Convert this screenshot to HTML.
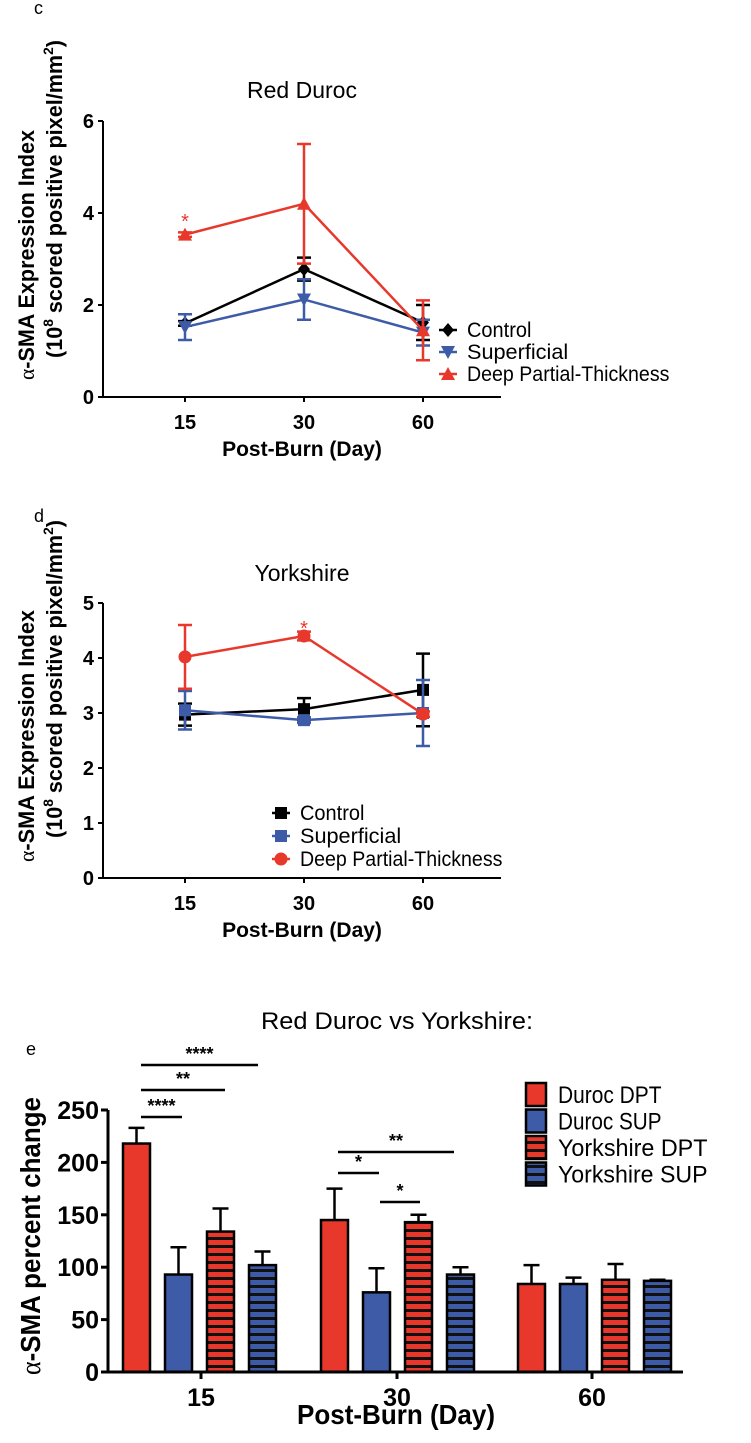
<!DOCTYPE html>
<html><head><meta charset="utf-8"><style>
html,body{margin:0;padding:0;background:#fff;}
svg{display:block;font-family:"Liberation Sans",Arial,sans-serif;}
</style></head><body>
<svg id="fig" width="751" height="1443" viewBox="0 0 751 1443" xmlns="http://www.w3.org/2000/svg">
<defs>
<pattern id="stripeR" width="8" height="8" patternUnits="userSpaceOnUse"><rect width="8" height="8" fill="#e8382b"/><rect y="5" width="8" height="3" fill="#111"/></pattern>
<pattern id="stripeB" width="8" height="8" patternUnits="userSpaceOnUse"><rect width="8" height="8" fill="#3e5ba8"/><rect y="5" width="8" height="3" fill="#111"/></pattern>
</defs>
<text x="34" y="14" font-size="18">c</text>
<text x="34" y="522" font-size="18">d</text>
<text x="26" y="1055" font-size="18">e</text>
<g id="c"></g>
<g id="d"></g>
<g id="e"></g>
</svg>
<script>
// ---- Panel c data ----
const cDays = ["15","30","60"];
const cControl = [1.6, 2.78, 1.62];
const cControlErr = [0.05, 0.25, 0.38];
const cSup = [1.52, 2.12, 1.4];
const cSupErr = [0.28, 0.44, 0.28];
const cDpt = [3.53, 4.2, 1.45];
const cDptErr = [0.05, 1.3, 0.65];
const cTicks = [0, 2, 4, 6];
// ---- Panel d data ----
const dDays = ["15","30","60"];
const dControl = [2.97, 3.07, 3.42];
const dControlErr = [0.2, 0.2, 0.66];
const dSup = [3.05, 2.87, 3.0];
const dSupErr = [0.35, 0.05, 0.6];
const dDpt = [4.02, 4.4, 2.98];
const dDptErr = [0.58, 0.08, 0.05];
const dTicks = [0, 1, 2, 3, 4, 5];
// ---- Panel e data ----
const eDays = ["15","30","60"];
const eSeries = ["Duroc DPT","Duroc SUP","Yorkshire DPT","Yorkshire SUP"];
const eDurocDpt = [218, 145, 84];
const eDurocDptErr = [15, 30, 18];
const eDurocSup = [93, 76, 84];
const eDurocSupErr = [26, 23, 6];
const eYorkDpt = [134, 143, 88];
const eYorkDptErr = [22, 7, 15];
const eYorkSup = [102, 93, 87];
const eYorkSupErr = [13, 7, 1];
const eTicks = [0, 50, 100, 150, 200, 250];
const eSigLabels = ["****","**","****","**","*","*"];

const NS = "http://www.w3.org/2000/svg";
function mk(parent, tag, attrs, txt){
  const el = document.createElementNS(NS, tag);
  for (const k in attrs) el.setAttribute(k, attrs[k]);
  if (txt !== undefined) el.textContent = txt;
  parent.appendChild(el);
  return el;
}
const RED="#e8382b", BLUE="#3e5ba8", BLK="#000";

function marker(g, type, x, y, color){
  let el;
  if (type==="diamond") el = mk(g,"polygon",{points:`${x},${y-7} ${x+6},${y} ${x},${y+7} ${x-6},${y}`,fill:color});
  else if (type==="down") el = mk(g,"polygon",{points:`${x-7},${y-6} ${x+7},${y-6} ${x},${y+7}`,fill:color});
  else if (type==="up") el = mk(g,"polygon",{points:`${x-7},${y+6} ${x+7},${y+6} ${x},${y-7}`,fill:color});
  else if (type==="square") el = mk(g,"rect",{x:x-6,y:y-6,width:12,height:12,fill:color});
  else el = mk(g,"circle",{cx:x,cy:y,r:6.5,fill:color});
  
  
}

function linePanel(g, o){
  const xs = i => o.xPos[i];
  const ys = v => o.y0 - v*o.unit;
  const ax = mk(g,"path",{d:`M${o.x0},${ys(o.ticks[o.ticks.length-1])} V${o.y0} H${o.x1}`,stroke:"#000","stroke-width":2,fill:"none"});
  
  
  o.ticks.forEach(t=>{
    mk(g,"line",{x1:o.x0-5,x2:o.x0,y1:ys(t),y2:ys(t),stroke:"#000","stroke-width":2});
    const tl = mk(g,"text",{x:o.x0-9,y:ys(t)+7,"font-size":20,"font-weight":"bold","text-anchor":"end"},String(t));
    
    
  });
  o.days.forEach((d,i)=>{
    mk(g,"line",{x1:xs(i),x2:xs(i),y1:o.y0,y2:o.y0+5,stroke:"#000","stroke-width":2});
    const tl = mk(g,"text",{x:xs(i),y:o.y0+32,"font-size":20,"font-weight":"bold","text-anchor":"middle"},d);
    
    
  });
  const tt = mk(g,"text",{x:302,y:o.titleY,"font-size":23,"text-anchor":"middle"},o.title);
  
  
  const xt = mk(g,"text",{x:302,y:o.y0+59,"font-size":21,"font-weight":"bold","text-anchor":"middle"},"Post-Burn (Day)");
  
  
  const yt = mk(g,"text",{transform:`translate(34,${o.yLabelC1}) rotate(-90)`,"font-size":22,"font-weight":"bold","text-anchor":"middle",textLength:o.yLen1,lengthAdjust:"spacingAndGlyphs"});
  
  
  mk(yt,"tspan",{"font-weight":"normal","font-family":"Liberation Serif, serif"},"α");
  mk(yt,"tspan",{},"-SMA Expression Index");
  const yt2 = mk(g,"text",{transform:`translate(62,${o.yLabelC2}) rotate(-90)`,"font-size":22,"font-weight":"bold","text-anchor":"middle",textLength:o.yLen2,lengthAdjust:"spacingAndGlyphs"});
  
  
  mk(yt2,"tspan",{},"(10");
  mk(yt2,"tspan",{"font-size":14,dy:-9},"8");
  mk(yt2,"tspan",{dy:9}," scored positive pixel/mm");
  mk(yt2,"tspan",{"font-size":14,dy:-9},"2");
  mk(yt2,"tspan",{dy:9},")");
  o.series.forEach(s=>{
    const sg = mk(g,"g",{});
    
    
    const pts = s.vals.map((v,i)=>`${xs(i)},${ys(v)}`).join(" ");
    mk(sg,"polyline",{points:pts,fill:"none",stroke:s.color,"stroke-width":2.5});
    s.vals.forEach((v,i)=>{
      const e = s.err[i];
      mk(sg,"path",{d:`M${xs(i)},${ys(v+e)} V${ys(v-e)} M${xs(i)-7},${ys(v+e)} h14 M${xs(i)-7},${ys(v-e)} h14`,stroke:s.color,"stroke-width":2.5,fill:"none"});
    });
    s.vals.forEach((v,i)=>marker(sg,s.marker,xs(i),ys(v),s.color));
  });
  const st = mk(g,"text",{x:o.star.x,y:o.star.y,"font-size":20,fill:RED,"text-anchor":"middle"},"*");
  
  
  o.series.forEach((s,i)=>{
    const ly = o.leg.y + i*o.leg.dy;
    const lg = mk(g,"g",{});
    
    
    mk(lg,"line",{x1:o.leg.x-9,x2:o.leg.x+9,y1:ly,y2:ly,stroke:s.color,"stroke-width":2.5});
    marker(lg,s.marker,o.leg.x,ly,s.color);
    mk(lg,"text",{x:o.leg.x+19,y:ly+7,"font-size":21,textLength:s.label.length*9.2,lengthAdjust:"spacingAndGlyphs"},s.label);
  });
}

const cUnit = (397-121)/6;
linePanel(document.getElementById("c"),{
  days:cDays, xPos:[185,304,423], x0:103, x1:501, y0:397, unit:cUnit, ticks:cTicks,
  title:"Red Duroc", titleY:98, yLabelC1:255, yLabelC2:199, yLen1:250, yLen2:318,
  series:[
    {name:"control",label:"Control",vals:cControl,err:cControlErr,color:BLK,marker:"diamond"},
    {name:"superficial",label:"Superficial",vals:cSup,err:cSupErr,color:BLUE,marker:"down"},
    {name:"deep-partial",label:"Deep Partial-Thickness",vals:cDpt,err:cDptErr,color:RED,marker:"up"}],
  star:{x:185,y:228},
  leg:{x:448,y:330,dy:22}
});
const dUnit = (878-603)/5;
linePanel(document.getElementById("d"),{
  days:dDays, xPos:[185,304,423], x0:103, x1:501, y0:878, unit:dUnit, ticks:dTicks,
  title:"Yorkshire", titleY:581, yLabelC1:736, yLabelC2:679, yLen1:252, yLen2:318,
  series:[
    {name:"control",label:"Control",vals:dControl,err:dControlErr,color:BLK,marker:"square"},
    {name:"superficial",label:"Superficial",vals:dSup,err:dSupErr,color:BLUE,marker:"square"},
    {name:"deep-partial",label:"Deep Partial-Thickness",vals:dDpt,err:dDptErr,color:RED,marker:"circle"}],
  star:{x:304,y:635},
  leg:{x:281,y:813,dy:23}
});

(function(){
  const g = document.getElementById("e");
  const y0 = 1372, unit = (1372-1110)/250;
  const ys = v => y0 - v*unit;
  const groupX = [123, 321, 518];
  const barW = 27, barStep = 42;
  const tickX = [201, 397, 592];
  const vals = [eDurocDpt, eDurocSup, eYorkDpt, eYorkSup];
  const errs = [eDurocDptErr, eDurocSupErr, eYorkDptErr, eYorkSupErr];
  const fills = [RED, BLUE, "url(#stripeR)", "url(#stripeB)"];
  const tt = mk(g,"text",{x:397,y:1029,"font-size":24,"text-anchor":"middle",textLength:272,lengthAdjust:"spacingAndGlyphs"},"Red Duroc vs Yorkshire:");
  
  
  vals.forEach((arr,s)=>{
    arr.forEach((v,i)=>{
      const x = groupX[i] + s*barStep;
      const e = errs[s][i];
      mk(g,"path",{d:`M${x+barW/2},${ys(v)} V${ys(v+e)} M${x+barW/2-8},${ys(v+e)} h16`,stroke:"#000","stroke-width":2.5,fill:"none"});
      const b = mk(g,"rect",{x:x,y:ys(v),width:barW,height:v*unit,fill:fills[s],stroke:"#000","stroke-width":2.5});
      
      
    });
  });
  const ax = mk(g,"path",{d:`M108,${ys(250)} V${y0} H683`,stroke:"#000","stroke-width":3,fill:"none"});
  
  
  eTicks.forEach(t=>{
    mk(g,"line",{x1:101,x2:108,y1:ys(t),y2:ys(t),stroke:"#000","stroke-width":3});
    const tl = mk(g,"text",{x:99,y:ys(t)+9,"font-size":25,"font-weight":"bold","text-anchor":"end"},String(t));
    
    
  });
  eDays.forEach((d,i)=>{
    mk(g,"line",{x1:tickX[i],x2:tickX[i],y1:y0,y2:y0+7,stroke:"#000","stroke-width":3});
    const tl = mk(g,"text",{x:tickX[i],y:y0+34,"font-size":25,"font-weight":"bold","text-anchor":"middle"},d);
    
    
  });
  const xt = mk(g,"text",{x:396,y:1424,"font-size":28,"font-weight":"bold","text-anchor":"middle",textLength:198,lengthAdjust:"spacingAndGlyphs"},"Post-Burn (Day)");
  
  
  const yt = mk(g,"text",{transform:"translate(40,1236) rotate(-90)","font-size":28,"font-weight":"bold","text-anchor":"middle",textLength:278,lengthAdjust:"spacingAndGlyphs"});
  
  
  mk(yt,"tspan",{"font-weight":"normal","font-family":"Liberation Serif, serif"},"α");
  mk(yt,"tspan",{},"-SMA percent change");
  const sigX = [[141,258],[141,225],[141,182],[338,454],[338,379],[380,420]];
  const bY = [1065,1090,1117,1152,1173,1202];
  eSigLabels.forEach((lab,i)=>{
    const sg = mk(g,"g",{});
    
    
    mk(sg,"line",{x1:sigX[i][0],x2:sigX[i][1],y1:bY[i],y2:bY[i],stroke:"#000","stroke-width":2.5});
    mk(sg,"text",{x:(sigX[i][0]+sigX[i][1])/2,y:bY[i]-5,"font-size":18,"font-weight":"bold","text-anchor":"middle"},lab);
  });
  eSeries.forEach((name,s)=>{
    const ly = 1083 + s*26.5;
    const lg = mk(g,"g",{});
    
    
    mk(lg,"rect",{x:526,y:ly,width:20,height:23,fill:fills[s],stroke:"#000","stroke-width":2.5});
    mk(lg,"text",{x:558,y:ly+20,"font-size":24,textLength:name.length*11.5,lengthAdjust:"spacingAndGlyphs"},name);
  });
})();
</script>
</body></html>
